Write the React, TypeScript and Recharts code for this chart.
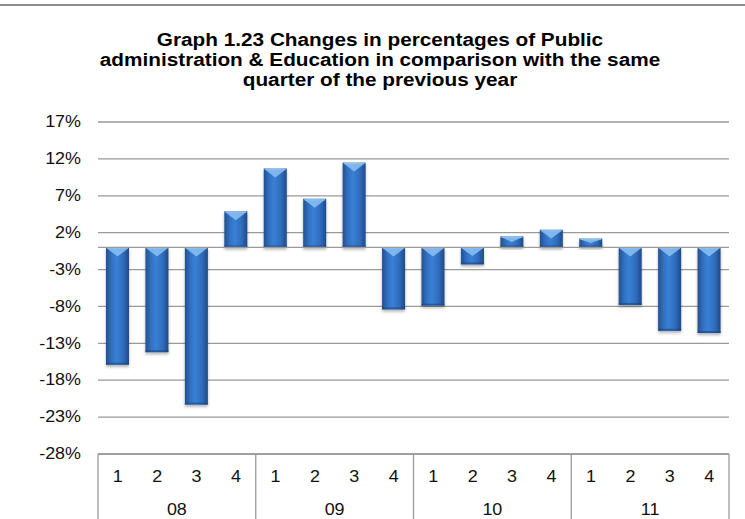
import { BarChart, Bar, XAxis, YAxis, CartesianGrid, ReferenceLine } from 'recharts'

const quarters = ['1', '2', '3', '4', '1', '2', '3', '4', '1', '2', '3', '4', '1', '2', '3', '4']
const years = ['08', '08', '08', '08', '09', '09', '09', '09', '10', '10', '10', '10', '11', '11', '11', '11']
const changes = [-15.9, -14.2, -21.3, 4.9, 10.7, 6.6, 11.5, -8.4, -7.9, -2.3, 1.5, 2.4, 1.2, -7.8, -11.3, -11.6]
const yTicks = [-28, -23, -18, -13, -8, -3, 2, 7, 12, 17]
const titleLines = [
  'Graph 1.23 Changes in percentages of Public',
  'administration & Education in comparison with the same',
  'quarter of the previous year',
]

const W = 745
const H = 519
const margin = { top: 122, right: 16, left: 0, bottom: 0 }
const Y_AXIS_W = 98
const X_AXIS_H = 65
const bandW = (W - margin.left - margin.right - Y_AXIS_W) / quarters.length

const FONT = '"Liberation Sans", Arial, sans-serif'
const LINE = '#9a9a9a'

const data = changes.map((v, i) => ({ key: `${years[i]}-${quarters[i]}-${i}`, value: v }))
const keys = data.map(d => d.key)

const YTick = ({ x, y, payload }: any) => (
  <text
    transform={`translate(${x},${y}) scale(1.12,1)`}
    textAnchor="end"
    dominantBaseline="central"
    fontSize={16}
    fontFamily={FONT}
    fill="#111"
  >
    {payload.value}%
  </text>
)

const QuarterTick = ({ x, y, payload }: any) => {
  const i = keys.indexOf(payload.value)
  const left = x - bandW / 2
  const right = x + bandW / 2
  return (
    <g>
      <text
        transform={`translate(${x},${y + 23}) scale(1.12,1)`}
        textAnchor="middle"
        dominantBaseline="central"
        fontSize={16}
        fontFamily={FONT}
        fill="#111"
      >
        {quarters[i]}
      </text>
      {quarters[i] === '1' && (
        <>
          <line x1={left} x2={left} y1={y} y2={H} stroke={LINE} strokeWidth={1.3} />
          <text
            transform={`translate(${left + bandW * 2},${y + 56}) scale(1.12,1)`}
            textAnchor="middle"
            dominantBaseline="central"
            fontSize={16}
            fontFamily={FONT}
            fill="#111"
          >
            {years[i]}
          </text>
        </>
      )}
      {i === quarters.length - 1 && <line x1={right} x2={right} y1={y} y2={H} stroke={LINE} strokeWidth={1.3} />}
    </g>
  )
}

const CylinderBar = ({ x, y, width, height }: any) => {
  const top = Math.min(y, y + height)
  const h = Math.abs(height)
  if (!h) return null
  const capH = Math.min(9, h * 0.5)
  return (
    <g filter="url(#barShadow)">
      <rect x={x} y={top} width={width} height={h} fill="url(#barFill)" />
      <rect x={x} y={top + h - 2} width={width} height={2} fill="#1d4580" opacity={0.6} />
      <polygon
        points={`${x + 1},${top + 1} ${x + width - 1},${top + 1} ${x + width / 2},${top + capH}`}
        fill="#8cc1f2"
        opacity={0.85}
      />
      <rect x={x + 1} y={top} width={width - 2} height={1.5} fill="#a9d2f7" opacity={0.7} />
    </g>
  )
}

export default function App() {
  return (
    <div style={{ position: 'fixed', left: 0, top: 0, width: W, height: H, background: '#fff' }}>
      <BarChart width={W} height={H} data={data} margin={margin} barSize={23}>
        <defs>
          <linearGradient id="barFill" x1="0" y1="0" x2="1" y2="0">
            <stop offset="0%" stopColor="#23508f" />
            <stop offset="25%" stopColor="#3272c4" />
            <stop offset="45%" stopColor="#3a80d6" />
            <stop offset="75%" stopColor="#2f6cbc" />
            <stop offset="100%" stopColor="#1f4a86" />
          </linearGradient>
          <filter id="barShadow" x="-20%" y="-10%" width="140%" height="130%">
            <feDropShadow dx="0" dy="2" stdDeviation="1.5" floodColor="#000" floodOpacity="0.3" />
          </filter>
        </defs>
        <CartesianGrid vertical={false} stroke={LINE} strokeWidth={1.3} />
        <YAxis
          width={Y_AXIS_W}
          domain={[-28, 17]}
          ticks={yTicks}
          axisLine={false}
          tickLine={false}
          tickSize={0}
          tickMargin={17}
          tick={<YTick />}
        />
        <XAxis
          dataKey="key"
          height={X_AXIS_H}
          interval={0}
          tickLine={false}
          tickSize={0}
          tickMargin={0}
          axisLine={{ stroke: LINE, strokeWidth: 1.3 }}
          tick={<QuarterTick />}
        />
        <ReferenceLine y={0} stroke={LINE} strokeWidth={1.3} />
        <Bar dataKey="value" shape={<CylinderBar />} isAnimationActive={false} />
      </BarChart>
      <svg width={W} height={H} style={{ position: 'absolute', left: 0, top: 0, pointerEvents: 'none' }}>
        <rect x={0} y={4} width={W} height={2} fill="#8f8f8f" />
        {titleLines.map((t, i) => (
          <text
            key={i}
            transform={`translate(380,${45.7 + i * 20}) scale(1.11,1)`}
            textAnchor="middle"
            fontSize={18.7}
            fontWeight="bold"
            fontFamily={FONT}
            fill="#000"
          >
            {t}
          </text>
        ))}
      </svg>
    </div>
  )
}
